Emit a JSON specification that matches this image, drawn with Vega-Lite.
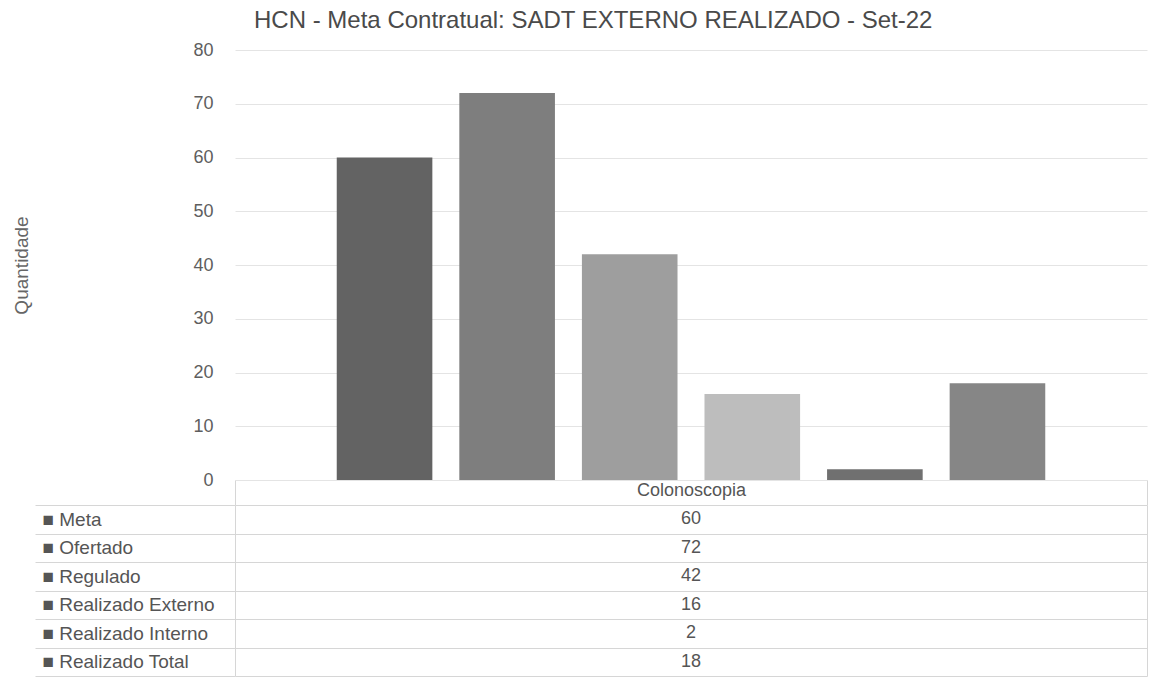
{
  "$schema": "https://vega.github.io/schema/vega-lite/v6.json",
  "background": "white",
  "padding": {"left": 12, "top": 9, "right": 3, "bottom": 0},
  "config": {
    "font": "Liberation Sans",
    "view": {"stroke": null},
    "axis": {"labelFont": "Liberation Sans", "titleFont": "Liberation Sans"}
  },
  "title": {
    "text": "HCN - Meta Contratual: SADT EXTERNO REALIZADO - Set-22",
    "fontSize": 24,
    "fontWeight": "normal",
    "color": "#4a4a4a",
    "anchor": "middle",
    "dx": 13,
    "offset": 8
  },
  "data": {
    "values": [
      {"serie": "Meta", "exame": "Colonoscopia", "valor": 60},
      {"serie": "Ofertado", "exame": "Colonoscopia", "valor": 72},
      {"serie": "Regulado", "exame": "Colonoscopia", "valor": 42},
      {"serie": "Realizado Externo", "exame": "Colonoscopia", "valor": 16},
      {"serie": "Realizado Interno", "exame": "Colonoscopia", "valor": 2},
      {"serie": "Realizado Total", "exame": "Colonoscopia", "valor": 18}
    ]
  },
  "bounds": "flush",
  "spacing": 25,
  "vconcat": [
    {
      "width": 912,
      "height": 430,
      "mark": {"type": "bar"},
      "encoding": {
        "x": {
          "field": "exame",
          "type": "nominal",
          "scale": {"paddingInner": 0, "paddingOuter": 0.12},
          "axis": null
        },
        "xOffset": {
          "field": "serie",
          "type": "nominal",
          "sort": ["Meta", "Ofertado", "Regulado", "Realizado Externo", "Realizado Interno", "Realizado Total"],
          "scale": {"paddingInner": 0.22, "paddingOuter": 0.11}
        },
        "y": {
          "field": "valor",
          "type": "quantitative",
          "scale": {"domain": [0, 80]},
          "axis": {
            "values": [0, 10, 20, 30, 40, 50, 60, 70, 80],
            "title": "Quantidade",
            "titleFontSize": 19,
            "titleFontWeight": "normal",
            "titleColor": "#666666",
            "titlePadding": 161,
            "labelFontSize": 18,
            "labelColor": "#5e5e5e",
            "labelPadding": 22,
            "ticks": false,
            "domain": false,
            "gridColor": "#e4e4e4"
          }
        },
        "color": {
          "field": "serie",
          "type": "nominal",
          "scale": {
            "domain": ["Meta", "Ofertado", "Regulado", "Realizado Externo", "Realizado Interno", "Realizado Total"],
            "range": ["#636363", "#7e7e7e", "#9e9e9e", "#bdbdbd", "#707070", "#868686"]
          },
          "legend": null
        }
      }
    },
    {
      "width": 912,
      "height": 171,
      "mark": {"type": "text", "fontSize": 18, "color": "#555555", "font": "Liberation Sans"},
      "encoding": {
        "x": {
          "field": "exame",
          "type": "nominal",
          "scale": {"paddingInner": 0, "paddingOuter": 0},
          "axis": {
            "orient": "top",
            "title": null,
            "labelFontSize": 18,
            "labelColor": "#555555",
            "labelAngle": 0,
            "labelPadding": -19,
            "tickBand": "extent",
            "ticks": true,
            "tickSize": 25,
            "tickColor": "#d6d6d6",
            "domain": false,
            "grid": true,
            "gridColor": "#d6d6d6"
          }
        },
        "y": {
          "field": "serie",
          "type": "nominal",
          "sort": ["Meta", "Ofertado", "Regulado", "Realizado Externo", "Realizado Interno", "Realizado Total"],
          "axis": {
            "title": null,
            "tickBand": "extent",
            "ticks": true,
            "tickSize": 200,
            "tickColor": "#d6d6d6",
            "grid": true,
            "gridColor": "#d6d6d6",
            "domain": false,
            "labelAlign": "left",
            "labelPadding": -7,
            "labelFontSize": 19,
            "labelColor": "#555555",
            "labelExpr": "datum.value ? '■ ' + datum.label : ''"
          }
        },
        "text": {"field": "valor", "type": "quantitative"}
      }
    }
  ]
}
